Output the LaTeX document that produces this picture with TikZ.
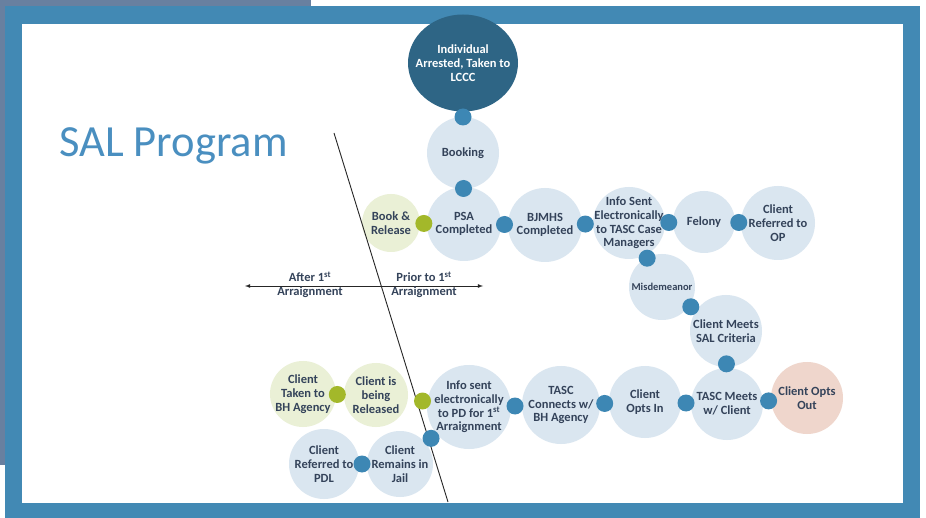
\documentclass[tikz,border=0pt]{standalone}
\usepackage{fontspec}
\setmainfont{Carlito}
\usepackage{tikz}
\usetikzlibrary{shapes,arrows,calc,positioning}

\definecolor{slatecol}{HTML}{6880A0}
\definecolor{framecol}{HTML}{4289B4}
\definecolor{titlecol}{HTML}{4A8FC0}
\definecolor{darkcol}{HTML}{2E6585}
\definecolor{stagecol}{HTML}{DAE6F0}
\definecolor{relcol}{HTML}{EAF0D6}
\definecolor{outcol}{HTML}{EFD6CC}
\definecolor{bdotcol}{HTML}{3D87B4}
\definecolor{gdotcol}{HTML}{A3B82A}
\definecolor{txtcol}{HTML}{34435A}

\begin{document}
\begin{tikzpicture}[x=1pt,y=-1pt,>=latex,line join=bevel,
  stage/.style={circle,fill=stagecol,inner sep=0pt},
  relstage/.style={stage,fill=relcol},
  outstage/.style={stage,fill=outcol},
  stagetext/.style={font=\bfseries\fontsize{12.5}{13.7}\selectfont,text=txtcol,align=center,inner sep=0pt},
  bdot/.style={circle,fill=bdotcol,inner sep=0pt,minimum size=17pt},
  gdot/.style={bdot,fill=gdotcol},
  arrtext/.style={font=\bfseries\fontsize{12.5}{14}\selectfont,text=txtcol,align=center,inner sep=0pt},
]
\useasboundingbox (0,0) rectangle (926,518);
%% frame
\fill[slatecol] (0,0) rectangle (311,465);
\fill[framecol] (5,6) rectangle (920,518);
\fill[white] (22,24) rectangle (903,503);
\node (title) at (59,157) [anchor=base west,text=titlecol,inner sep=0pt,font=\fontsize{44.5}{50}\selectfont] {SAL Program};
%%
\node (arrest) at (463,63) [ellipse,fill=darkcol,inner sep=0pt,minimum width=110pt,minimum height=97pt,
  label={[stagetext,text=white]center:Individual\\Arrested, Taken to\\LCCC}] {};
\node (book) at (463,153) [stage,minimum size=72pt,label={[stagetext]center:Booking}] {};
\node (psa) at (464,224) [stage,minimum size=74pt,label={[stagetext]center:PSA\\Completed}] {};
\node (bkrel) at (391,223) [relstage,minimum size=58pt,label={[stagetext]center:Book \&\\Release}] {};
\node (bjmhs) at (545,225) [stage,minimum size=74pt,label={[stagetext]center:BJMHS\\Completed}] {};
\node (infotasc) at (629,223) [stage,minimum size=72pt,label={[stagetext]center:Info Sent\\Electronically\\to TASC Case\\Managers}] {};
\node (felony) at (704,222) [stage,minimum size=62pt,label={[stagetext]center:Felony}] {};
\node (refop) at (778,223) [stage,minimum size=74pt,label={[stagetext]center:Client\\Referred to\\OP}] {};
\node (misd) at (662,287) [stage,minimum size=66pt,label={[stagetext,font=\bfseries\fontsize{10.5}{12}\selectfont]center:Misdemeanor}] {};
\node (sal) at (726,331) [stage,minimum size=72pt,label={[stagetext]center:Client Meets\\SAL Criteria}] {};
\node (tmeet) at (727,404) [stage,minimum size=72pt,label={[stagetext]center:TASC Meets\\w/ Client}] {};
\node (optout) at (807,398) [outstage,minimum size=72pt,label={[stagetext]center:Client Opts\\Out}] {};
\node (optin) at (645,402) [stage,minimum size=72pt,label={[stagetext]center:Client\\Opts In}] {};
\node (conn) at (561,405) [stage,minimum size=78pt,label={[stagetext]center:TASC\\Connects w/\\BH Agency}] {};
\node (infopd) at (469,407) [stage,minimum size=84pt,label={[stagetext]center:Info sent\\electronically\\to PD for 1\textsuperscript{st}\\Arraignment}] {};
\node (rel) at (376,395) [relstage,minimum size=64pt,label={[stagetext]center:Client is\\being\\Released}] {};
\node (taken) at (303,394) [relstage,minimum size=66pt,label={[stagetext]center:Client\\Taken to\\BH Agency}] {};
\node (jail) at (400,464) [stage,minimum size=66pt,label={[stagetext]center:Client\\Remains in\\Jail}] {};
\node (pdl) at (324,464) [stage,minimum size=70pt,label={[stagetext]center:Client\\Referred to\\PDL}] {};
%% arraignment split
\coordinate (cuttop) at (334,133);
\coordinate (cutbot) at (448,502);
\draw[line width=0.9pt,black!85] (cuttop) -- (cutbot);
\coordinate (arrleft) at (245,286);
\coordinate (arrright) at (483,286);
\draw[<->,line width=0.8pt,black!85] (arrleft) -- (arrright);
\node (after) at (310,285) [arrtext] {After 1\textsuperscript{st}\\Arraignment};
\node (prior) at (424,285) [arrtext] {Prior to 1\textsuperscript{st}\\Arraignment};
%% dots
\node (d1) at ($(arrest)!.6!(book)$) [bdot] {};
\node (d2) at ($(book)!.5!(psa)$) [bdot] {};
\node (g1) at ($(bkrel)!.45!(psa)$) [gdot] {};
\node (d3) at ($(psa)!.5!(bjmhs)$) [bdot] {};
\node (d4) at ($(bjmhs)!.48!(infotasc)$) [bdot] {};
\node (d5) at ($(infotasc)!.53!(felony)$) [bdot] {};
\node (d6) at ($(felony)!.47!(refop)$) [bdot] {};
\node (d7) at ($(infotasc)!.55!(misd)$) [bdot] {};
\node (d8) at ($(misd)!.45!(sal)$) [bdot] {};
\node (d9) at ($(sal)!.45!(tmeet)$) [bdot] {};
\node (d10) at ($(tmeet)!.52!(optout)$) [bdot] {};
\node (d11) at ($(optin)!.5!(tmeet)$) [bdot] {};
\node (d12) at ($(conn)!.52!(optin)$) [bdot] {};
\node (d13) at ($(infopd)!.5!(conn)$) [bdot] {};
\node (g2) at ($(rel)!.5!(infopd)$) [gdot] {};
\node (g3) at ($(taken)!.47!(rel)$) [gdot] {};
\node (d14) at ($(infopd)!.55!(jail)$) [bdot] {};
\node (d15) at ($(pdl)!.5!(jail)$) [bdot] {};
\end{tikzpicture}
\end{document}
